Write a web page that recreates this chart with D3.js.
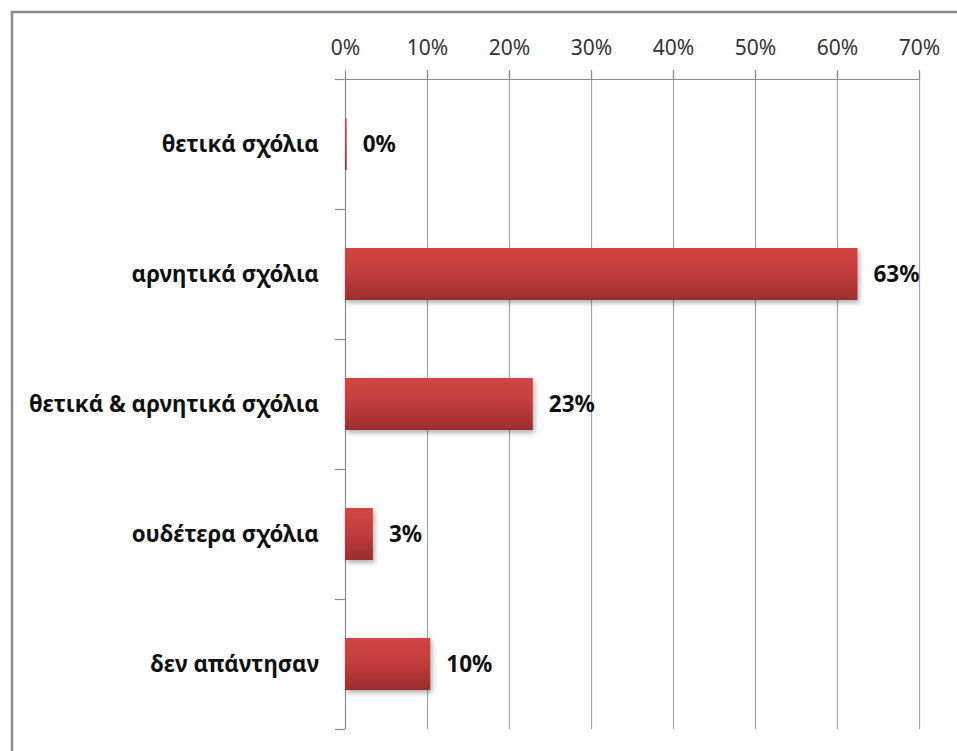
<!DOCTYPE html>
<html><head><meta charset="utf-8">
<script src="https://cdn.jsdelivr.net/npm/d3@7"></script>
<style>body{margin:0;background:#fff}</style>
</head><body>
<script>
const categories = ["θετικά σχόλια","αρνητικά σχόλια","θετικά & αρνητικά σχόλια","ουδέτερα σχόλια","δεν απάντησαν"];
const values = [0.002, 0.625, 0.229, 0.034, 0.104];
const valueLabels = ["0%","63%","23%","3%","10%"];
const tickValues = [0,0.1,0.2,0.3,0.4,0.5,0.6,0.7];

const W=957,H=751;
const svg=d3.select("body").append("svg").attr("width",W).attr("height",H);
const defs=svg.append("defs");
const g=defs.append("linearGradient").attr("id","barg").attr("x1",0).attr("y1",0).attr("x2",0).attr("y2",1);
g.append("stop").attr("offset","0%").attr("stop-color","#d44545");
g.append("stop").attr("offset","45%").attr("stop-color","#c43d3c");
g.append("stop").attr("offset","100%").attr("stop-color","#9c2e2e");
const f=defs.append("filter").attr("id","sh").attr("x","-10%").attr("y","-20%").attr("width","130%").attr("height","160%");
f.append("feDropShadow").attr("dx",2).attr("dy",3).attr("stdDeviation",2.5).attr("flood-color","#000").attr("flood-opacity",0.3);

// outer border
svg.append("rect").attr("x",12).attr("y",12).attr("width",W+20).attr("height",H+20)
  .attr("fill","none").attr("stroke","#8a8a8a").attr("stroke-width",2.5);

const x=d3.scaleLinear().domain([0,0.7]).range([345,919]);
const y=d3.scaleBand().domain(categories).range([79,729]).paddingInner(0.6).paddingOuter(0.3);

// gridlines
svg.append("g").selectAll("line").data(tickValues.slice(1)).join("line")
  .attr("x1",d=>Math.round(x(d))+0.5).attr("x2",d=>Math.round(x(d))+0.5)
  .attr("y1",70).attr("y2",729).attr("stroke","#a6a6a6").attr("stroke-width",1.2);

// top axis
const xa=svg.append("g").attr("transform","translate(0,79.5)")
  .call(d3.axisTop(x).tickValues(tickValues).tickFormat(d3.format(".0%")).tickSize(9).tickPadding(16));
xa.select(".domain").attr("stroke","#8c8c8c").attr("stroke-width",1.2).attr("d","M335,0H919");
xa.selectAll(".tick line").attr("stroke","#8c8c8c").attr("stroke-width",1.2);
xa.selectAll("text").attr("font-family","Noto Sans").attr("font-size",21).attr("fill","#333");

// left axis
svg.append("line").attr("x1",345.5).attr("x2",345.5).attr("y1",79).attr("y2",729).attr("stroke","#8c8c8c").attr("stroke-width",1.2);
const step=y.step();
const bounds=d3.range(categories.length+1).map(i=>y.range()[0]+i*step);
svg.append("g").selectAll("line").data(bounds).join("line")
  .attr("x1",335).attr("x2",345).attr("y1",d=>Math.round(d)+0.5).attr("y2",d=>Math.round(d)+0.5)
  .attr("stroke","#8c8c8c").attr("stroke-width",1.2);

// category labels
svg.append("g").selectAll("text").data(categories).join("text")
  .attr("x",319).attr("y",d=>y(d)+y.bandwidth()/2).attr("dy","0.35em")
  .attr("text-anchor","end").attr("font-family","Noto Sans").attr("font-weight","bold")
  .attr("font-size",22.3).attr("fill","#111").text(d=>d);

// bars
svg.append("g").selectAll("rect").data(categories).join("rect")
  .attr("x",x(0)).attr("y",d=>y(d)).attr("height",y.bandwidth())
  .attr("width",(d,i)=>Math.max(1.5,x(values[i])-x(0)))
  .attr("fill","url(#barg)").attr("filter","url(#sh)");

// value labels
svg.append("g").selectAll("text").data(categories).join("text")
  .attr("x",(d,i)=>x(values[i])+16).attr("y",d=>y(d)+y.bandwidth()/2).attr("dy","0.36em")
  .attr("font-family","Noto Sans").attr("font-weight","bold").attr("font-size",22.5)
  .attr("fill","#111").text((d,i)=>valueLabels[i]);
</script>
</body></html>
